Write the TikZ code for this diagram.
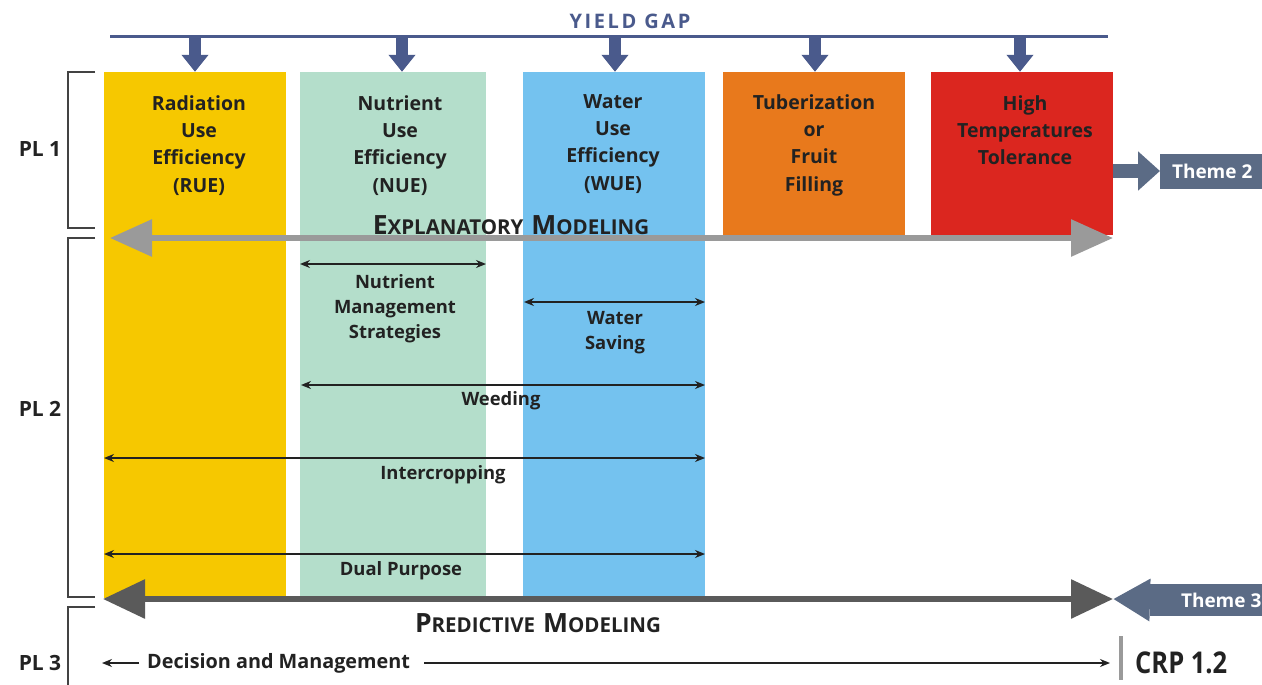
\documentclass[tikz,border=0pt]{standalone}
\usepackage{fontspec}
\setmainfont{Open Sans}
\usetikzlibrary{arrows.meta}
\definecolor{cyellow}{HTML}{F6C800}
\definecolor{cgreen}{HTML}{B4DECB}
\definecolor{cblue}{HTML}{74C2EF}
\definecolor{corange}{HTML}{E8791C}
\definecolor{cred}{HTML}{DB261F}
\definecolor{ygblue}{HTML}{4A5A8C}
\definecolor{themec}{HTML}{5B6B85}
\definecolor{explgray}{HTML}{9A9A9A}
\definecolor{predgray}{HTML}{5A5A5A}
\definecolor{txt}{HTML}{222222}
\newcommand\mysc[2]{{\fontsize{26.5}{26.5}\selectfont #1}{\fontsize{20.5}{20.5}\selectfont #2}}
\tikzset{
  colbox/.style={draw=none, inner sep=0pt, minimum width=182pt},
  coltext/.style={anchor=north, align=center, inner sep=0pt, text=txt,
    font=\bfseries\fontsize{19.5}{27.4}\selectfont},
  smalltext/.style={align=center, inner sep=0pt, text=txt,
    font=\bfseries\fontsize{18.4}{25}\selectfont},
  pltext/.style={inner sep=0pt, text=txt, font=\bfseries\fontsize{21}{21}\selectfont},
  bracketline/.style={draw=txt!85, line width=1.8pt},
  ygarrow/.style={draw=ygblue, line width=12pt, -{Triangle[width=26pt,length=17pt]}},
  dblarrow/.style={draw=txt, line width=1.5pt, {Stealth[length=10pt,width=8pt]}-{Stealth[length=10pt,width=8pt]}},
  themebox/.style={fill=themec, text=white, inner sep=0pt, font=\bfseries\fontsize{19}{19}\selectfont},
  themearrow/.style={draw=themec, line width=14pt, -{Triangle[width=38pt,length=22pt]}},
}
\begin{document}
\begin{tikzpicture}[x=1pt,y=-1pt]
\useasboundingbox[fill=white] (0,0) rectangle (1262,685);

% columns
\node[colbox, fill=cyellow, minimum height=526pt] (rue) at (195,335) {};
\node[colbox, fill=cgreen, minimum width=186pt, minimum height=526pt] (nue) at (393,335) {};
\node[colbox, fill=cblue, minimum height=526pt] (wue) at (614,335) {};
\node[colbox, fill=corange, minimum height=163pt] (tub) at (814,153.5) {};
\node[colbox, fill=cred, minimum height=163pt] (htt) at (1022,153.5) {};

\node[coltext] (t1) at (199,95) {Radiation\\Use\\Efficiency\\(RUE)};
\node[coltext] (t2) at (400,95) {Nutrient\\Use\\Efficiency\\(NUE)};
\node[coltext] (t3) at (613,94) {Water\\Use\\Efficiency\\(WUE)};
\node[coltext] (t4) at (814,94) {Tuberization\\or\\Fruit\\Filling};
\node[coltext] (t5) at (1025,95) {High\\Temperatures\\Tolerance};

% yield gap
\node[inner sep=0pt, text=ygblue, font=\bfseries\fontsize{20}{20}\selectfont] (yg) at (630,21) {Y\kern2.6pt I\kern2.6pt E\kern2.6pt L\kern2.6pt D\hspace{8pt}G\kern2.6pt A\kern2.6pt P};
\coordinate (ygL) at (110,37);
\coordinate (ygR) at (1108,37);
\draw[draw=ygblue, line width=3pt] (ygL) -- (ygR);
\foreach \x/\n in {195/rue,402/nue,615/wue,815/tub,1020/htt}{
  \coordinate (a\n) at (\x,37);
  \draw[ygarrow] (a\n) -- (a\n |- \n.north);
}

% brackets and PL labels
\draw[bracketline] (95,72) -- (68,72) -- (68,228) -- (95,228);
\draw[bracketline] (95,238) -- (68,238) -- (68,597) -- (95,597);
\draw[bracketline] (95,607) -- (68,607) -- (68,686);
\node[pltext] (pl1) at (40,149) {PL 1};
\node[pltext] (pl2) at (40,409) {PL 2};
\node[pltext] (pl3) at (40,663) {PL 3};

% explanatory modeling
\node[inner sep=0pt, text=txt, font=\bfseries] (expl) at (511,225) {\mysc{E}{XPLANATORY}\hspace{8pt}\mysc{M}{ODELING}};
\coordinate (exL) at (110,238);
\coordinate (exR) at (1113,238);
\draw[draw=explgray, line width=6pt, {Triangle[width=36pt,length=42pt]}-{Triangle[width=36pt,length=42pt]}] (exL) -- (exR);

% theme 2
\node[themebox, minimum width=110pt, minimum height=35pt, anchor=west] (th2) at (1160,171) {\hspace{-6pt}Theme 2};
\draw[themearrow] (htt.east |- th2.west) -- (th2.west);

% management arrows
\coordinate (nmL) at (300,264); \coordinate (nmR) at (486,264);
\draw[dblarrow] (nmL) -- (nmR);
\node[smalltext] (nm) at (395,309) {Nutrient\\Management\\Strategies};

\coordinate (wsL) at (524,302); \coordinate (wsR) at (705,302);
\draw[dblarrow] (wsL) -- (wsR);
\node[smalltext] (ws) at (615,333) {Water\\Saving};

\coordinate (wdL) at (301,385); \coordinate (wdR) at (705,385);
\draw[dblarrow] (wdL) -- (wdR);
\node[smalltext] (wd) at (501,401) {Weeding};

\coordinate (icL) at (104,458); \coordinate (icR) at (705,458);
\draw[dblarrow] (icL) -- (icR);
\node[smalltext] (ic) at (443,475) {Intercropping};

\coordinate (dpL) at (104,554); \coordinate (dpR) at (705,554);
\draw[dblarrow] (dpL) -- (dpR);
\node[smalltext] (dp) at (401,571) {Dual Purpose};

% predictive modeling
\coordinate (prL) at (103,599);
\coordinate (prR) at (1113,599);
\draw[draw=predgray, line width=6pt, {Triangle[width=38pt,length=42pt]}-{Triangle[width=38pt,length=42pt]}] (prL) -- (prR);
\node[inner sep=0pt, text=txt, font=\bfseries] (pred) at (538,623) {\mysc{P}{REDICTIVE}\hspace{8pt}\mysc{M}{ODELING}};

% theme 3
\node[themebox, minimum width=130pt, minimum height=32pt, anchor=west] (th3) at (1150,600) {\hspace{12pt}Theme 3};
\draw[draw=themec, line width=14pt, -{Triangle[width=40pt,length=37pt]}] (th3.west) -- (prR);

% PL3 decision
\node[smalltext, anchor=west, font=\bfseries\fontsize{19.8}{20}\selectfont] (dm) at (147,663) {Decision and Management};
\coordinate (dmL) at (102,663);
\coordinate (dmR) at (1110,663);
\draw[draw=txt, line width=1.4pt, -{Stealth[length=10pt,width=8pt]}] ([xshift=-8pt]dm.west) -- (dmL);
\draw[draw=txt, line width=1.4pt, -{Stealth[length=10pt,width=8pt]}] ([xshift=14pt]dm.east) -- (dmR);

% CRP
\coordinate (crpT) at (1121,636);
\coordinate (crpB) at (1121,680);
\draw[draw=explgray, line width=4pt] (crpT) -- (crpB);
\node[inner sep=0pt, anchor=west, text=txt, xscale=0.85, font=\bfseries\fontsize{30}{30}\selectfont] (crp) at (1135,663) {CRP 1.2};
\end{tikzpicture}
\end{document}
